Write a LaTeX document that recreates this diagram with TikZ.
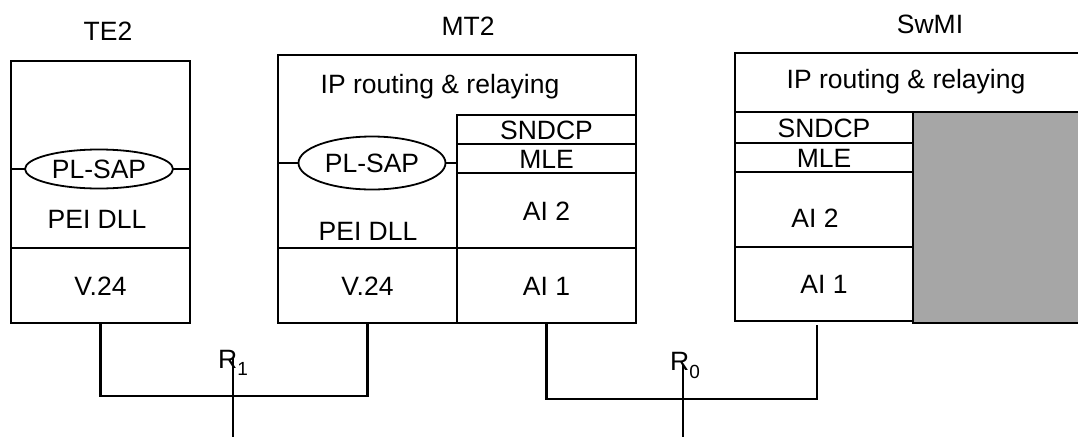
\documentclass[tikz,border=0pt]{standalone}
\usepackage{fontspec}
\setmainfont{Liberation Sans}
\usetikzlibrary{shapes.geometric}
\definecolor{boxgray}{RGB}{166,166,166}
\newcommand\lblfont{\fontsize{26.5}{31}\selectfont}
\newcommand\subfont{\fontsize{19}{22}\selectfont}
\begin{document}
\begin{tikzpicture}[x=1pt,y=-1pt,
  ln/.style={line width=2.6pt},
  txt/.style={inner sep=0pt, outer sep=0pt, font=\lblfont, text height=19pt, text depth=0pt},
  cell/.style={txt, draw, ln, anchor=north west},
  sap/.style={txt, draw, ellipse, line width=1.8pt},
  wire/.style={ln}]
\useasboundingbox (0,0) rectangle (1078,437);

% ---------- TE2 ----------
\node[txt] (te2t) at (108,31) {TE2};
\node[cell, minimum width=179pt, minimum height=262pt] (te2) at (11,61) {};
\node[cell, minimum width=179pt, minimum height=75pt] (te2v24) at (11,248) {V.24};
\node[sap, minimum width=148pt, minimum height=39pt] (te2sap) at (99,169) {PL-SAP};
\node[txt] (te2dll) at (97,219) {PEI DLL};
\draw[ln] (te2.west |- te2sap.west) -- (te2sap.west);
\draw[ln] (te2sap.east) -- (te2.east |- te2sap.east);

% ---------- MT2 ----------
\node[txt] (mt2t) at (468,26) {MT2};
\node[cell, minimum width=358pt, minimum height=268pt] (mt2) at (278,55) {};
\node[txt] (mt2ip) at (440,84) {IP routing \& relaying};
\node[cell, minimum width=179pt, minimum height=29pt] (mt2sndcp) at (457,115) {SNDCP};
\node[cell, minimum width=179pt, minimum height=29pt] (mt2mle) at (457,144) {MLE};
\node[cell, minimum width=179pt, minimum height=75pt] (mt2ai2) at (457,173) {AI 2};
\node[cell, minimum width=179pt, minimum height=75pt] (mt2ai1) at (457,248) {AI 1};
\node[cell, minimum width=179pt, minimum height=75pt] (mt2v24) at (278,248) {V.24};
\node[sap, minimum width=147pt, minimum height=53pt] (mt2sap) at (372,163) {PL-SAP};
\node[txt] (mt2dll) at (368,231) {PEI DLL};
\draw[ln] (mt2.west |- mt2sap.west) -- (mt2sap.west);
\draw[ln] (mt2sap.east) -- (mt2sndcp.west |- mt2sap.east);

% ---------- SwMI ----------
\node[txt] (swt) at (930,24) {SwMI};
\node[cell, minimum width=352pt, minimum height=59pt] (swtop) at (735,53) {};
\node[txt] (swip) at (906,79) {IP routing \& relaying};
\node[cell, minimum width=178pt, minimum height=31pt] (swsndcp) at (735,112) {SNDCP};
\node[cell, minimum width=178pt, minimum height=29pt] (swmle) at (735,143) {MLE};
\node[cell, minimum width=178pt, minimum height=75pt] (swai2) at (735,172) {};
\node[txt] (swai2t) at (815,218) {AI 2};
\node[cell, minimum width=178pt, minimum height=74pt] (swai1) at (735,247) {AI 1};
\node[cell, fill=boxgray, minimum width=172pt, minimum height=211pt] (swgray) at (913,112) {};

% ---------- reference points ----------
\node[inner sep=0pt, anchor=base west] (r1) at (218,368) {\lblfont R\raisebox{-7pt}{\subfont 1}};
\node[inner sep=0pt, anchor=base west] (r0) at (670,370) {\lblfont R\raisebox{-8pt}{\subfont 0}};
\coordinate (r1top) at (233,358);
\coordinate (r1bot) at (233,437);
\coordinate (r0top) at (683,365);
\coordinate (r0bot) at (683,437);
\coordinate (j1) at (233,396);
\coordinate (j0) at (683,399);

\draw[wire] (te2v24.south) |- (j1) -| (mt2v24.south);
\draw[wire] (r1top) -- (r1bot);
\draw[wire] (mt2ai1.south) |- (j0) -| ([xshift=-7pt,yshift=-4pt]swai1.south);
\draw[wire] (r0top) -- (r0bot);
\end{tikzpicture}
\end{document}
